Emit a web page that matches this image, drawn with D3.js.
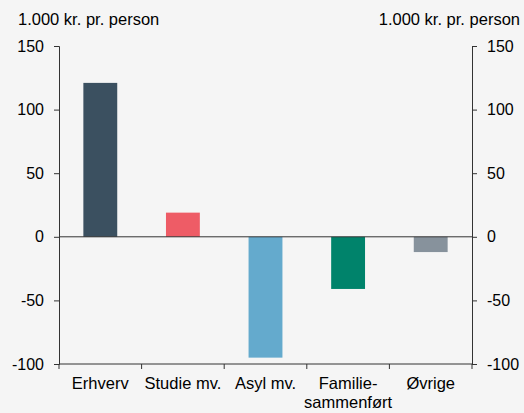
<!DOCTYPE html>
<html>
<head>
<meta charset="utf-8">
<script src="https://cdn.jsdelivr.net/npm/d3@7"></script>
<style>
  body { margin: 0; background: #f5f5f5; }
  svg { display: block; }
  text { font-family: "Liberation Sans", Arial, sans-serif; fill: #000; }
</style>
</head>
<body>
<div id="chart"></div>
<script>
// categories and values (1.000 kr. pr. person)
var categories = ["Erhverv", "Studie mv.", "Asyl mv.", "Familie-\nsammenført", "Øvrige"];
var values = [121, 19, -95, -41, -12];
var colors = ["#3b5060", "#ee5c66", "#64aacd", "#00836b", "#87929c"];
var yTicks = [-100, -50, 0, 50, 100, 150];
var unitLabel = "1.000 kr. pr. person";

var W = 524, H = 413;
var margin = {top: 46, right: 52, bottom: 49, left: 59};
var width = W - margin.left - margin.right;
var height = H - margin.top - margin.bottom;

var svg = d3.select("#chart")
    .append("svg")
    .attr("width", W)
    .attr("height", H)
    .append("g")
    .attr("transform", "translate(" + margin.left + "," + margin.top + ")");

var x = d3.scaleBand()
    .domain(categories)
    .range([0, width])
    .padding(0);

var y = d3.scaleLinear()
    .domain([-100, 150])
    .range([height, 0]);

// bars
var barW = x.bandwidth() * 0.41;
svg.selectAll("rect.bar")
    .data(values)
    .enter().append("rect")
    .attr("class", "bar")
    .attr("x", function(d, i) { return x(categories[i]) + (x.bandwidth() - barW) / 2; })
    .attr("width", barW)
    .attr("y", function(d) { return y(Math.max(0, d)); })
    .attr("height", function(d) { return Math.abs(y(d) - y(0)); })
    .attr("fill", function(d, i) { return colors[i]; });

// zero line
svg.append("line")
    .attr("x1", 0).attr("x2", width)
    .attr("y1", y(0)).attr("y2", y(0))
    .attr("stroke", "#333").attr("stroke-width", 1);

// plain hyphen for negatives, like the original
var fmt = function(d) { return String(d); };

// left axis
var yLeft = svg.append("g")
    .call(d3.axisLeft(y).tickValues(yTicks).tickFormat(fmt).tickSize(5).tickPadding(10));
// right axis
var yRight = svg.append("g")
    .attr("transform", "translate(" + width + ",0)")
    .call(d3.axisRight(y).tickValues(yTicks).tickFormat(fmt).tickSize(5).tickPadding(10));

// bottom axis: ticks at band boundaries
var xAxis = svg.append("g")
    .attr("transform", "translate(0," + height + ")");
xAxis.append("line")
    .attr("x1", 0).attr("x2", width)
    .attr("y1", 0).attr("y2", 0)
    .attr("stroke", "#333");
xAxis.selectAll("line.tick")
    .data(d3.range(categories.length + 1))
    .enter().append("line")
    .attr("class", "tick")
    .attr("x1", function(i) { return i * x.step(); })
    .attr("x2", function(i) { return i * x.step(); })
    .attr("y1", 0).attr("y2", 5)
    .attr("stroke", "#333");
xAxis.selectAll("text.cat")
    .data(categories)
    .enter().append("text")
    .attr("class", "cat")
    .attr("text-anchor", "middle")
    .attr("font-size", 16.5)
    .attr("x", function(d) { return x(d) + x.bandwidth() / 2; })
    .attr("y", 25)
    .each(function(d) {
        var lines = d.split("\n");
        var t = d3.select(this);
        lines.forEach(function(l, k) {
            t.append("tspan")
                .attr("x", x(d) + x.bandwidth() / 2)
                .attr("dy", k == 0 ? 0 : 19)
                .text(l);
        });
    });

[yLeft, yRight].forEach(function(a) {
    a.select(".domain").attr("stroke", "#333");
    a.selectAll(".tick line").attr("stroke", "#333");
    a.selectAll(".tick text")
        .attr("font-size", 16)
        .attr("font-family", "Liberation Sans, Arial, sans-serif")
        .attr("fill", "#000");
});

// unit labels
svg.append("text")
    .attr("x", -41).attr("y", -21)
    .attr("font-size", 16.5)
    .text(unitLabel);
svg.append("text")
    .attr("x", width + 48).attr("y", -21)
    .attr("text-anchor", "end")
    .attr("font-size", 16.5)
    .text(unitLabel);
</script>
</body>
</html>
